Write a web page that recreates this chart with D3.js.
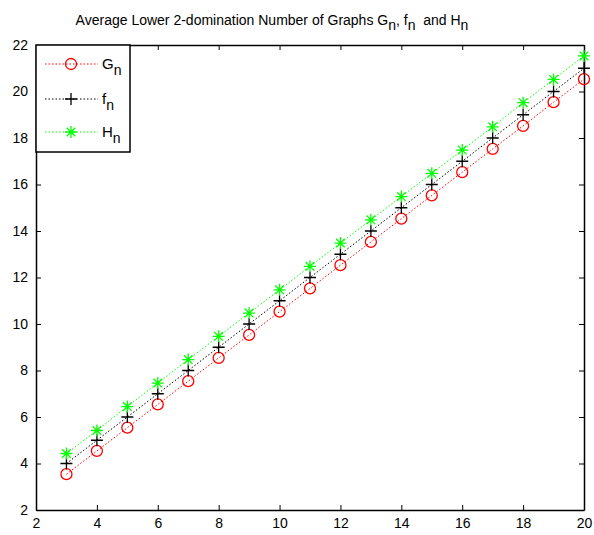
<!DOCTYPE html>
<html>
<head>
<meta charset="utf-8">
<script src="https://cdn.jsdelivr.net/npm/d3@7"></script>
<style>
  body { margin: 0; background: #fff; }
  text { font-family: "Liberation Sans", Arial, sans-serif; }
</style>
</head>
<body>
<div id="app"></div>
<script>
// data
const nValues = [3, 4, 5, 6, 7, 8, 9, 10, 11, 12, 13, 14, 15, 16, 17, 18, 19, 20];
const gValues = [3.54, 4.54, 5.54, 6.54, 7.54, 8.54, 9.53, 10.53, 11.53, 12.53, 13.53, 14.53, 15.53, 16.53, 17.53, 18.52, 19.54, 20.53];
const fValues = [4, 5, 6, 7, 8, 9, 10, 11, 12, 13, 14, 15, 16, 17, 18, 19, 20, 21];
const hValues = [4.43, 5.42, 6.45, 7.46, 8.47, 9.47, 10.47, 11.47, 12.48, 13.48, 14.48, 15.48, 16.48, 17.48, 18.48, 19.52, 20.52, 21.53];
const xTicks = [2, 4, 6, 8, 10, 12, 14, 16, 18, 20];
const yTicks = [2, 4, 6, 8, 10, 12, 14, 16, 18, 20, 22];

const series = [
  { name: "G", sub: "n", values: gValues, color: "#ff0000", marker: "circle" },
  { name: "f", sub: "n", values: fValues, color: "#000000", marker: "plus" },
  { name: "H", sub: "n", values: hValues, color: "#00ff00", marker: "star" }
];

const W = 594, H = 535;
const margin = { top: 45, right: 10, bottom: 25, left: 36 };
const width = W - margin.left - margin.right;
const height = H - margin.top - margin.bottom;

const x = d3.scaleLinear().domain([2, 20]).range([0, width]);
const y = d3.scaleLinear().domain([2, 22]).range([height, 0]);

const svg = d3.select("#app").append("svg")
  .attr("width", W).attr("height", H);

const g = svg.append("g")
  .attr("transform", `translate(${margin.left},${margin.top})`);

// title with subscripts
const title = svg.append("text")
  .attr("x", 272).attr("y", 25)
  .attr("text-anchor", "middle")
  .attr("font-size", 14)
  .attr("xml:space", "preserve");
const parts = [["Average Lower 2-domination Number of Graphs G", "n"], [", f", "n"], ["  and H", "n"]];
parts.forEach((p, i) => {
  title.append("tspan").text(p[0]).attr("dy", i === 0 ? 0 : -5);
  title.append("tspan").text(p[1]).attr("dy", 5);
});

// axes, ticks inward on all four sides
const tickLen = 5;
g.append("g").attr("transform", `translate(0,${height})`)
  .call(d3.axisBottom(x).tickValues(xTicks).tickSizeInner(-tickLen).tickSizeOuter(0).tickPadding(8));
g.append("g")
  .call(d3.axisTop(x).tickValues(xTicks).tickSizeInner(-tickLen).tickSizeOuter(0).tickFormat(""));
g.append("g")
  .call(d3.axisLeft(y).tickValues(yTicks).tickSizeInner(-tickLen).tickSizeOuter(0).tickPadding(8));
g.append("g").attr("transform", `translate(${width},0)`)
  .call(d3.axisRight(y).tickValues(yTicks).tickSizeInner(-tickLen).tickSizeOuter(0).tickFormat(""));

g.selectAll(".domain").attr("stroke", "#000").attr("stroke-width", 1.5);
g.selectAll(".tick line").attr("stroke", "#000").attr("stroke-width", 1);
g.selectAll(".tick text").attr("font-size", 14).attr("fill", "#000")
  .attr("font-family", "'Liberation Sans', Arial, sans-serif");

function drawMarker(sel, type, color) {
  if (type === "circle") {
    sel.append("circle").attr("r", 5.5).attr("fill", "none").attr("stroke", color).attr("stroke-width", 1.3);
  } else if (type === "plus") {
    sel.append("path").attr("d", "M-6,0H6M0,-6V6").attr("stroke", color).attr("stroke-width", 1.3);
  } else {
    sel.append("path").attr("d", "M-6,0H6M0,-6V6M-4.3,-4.3L4.3,4.3M-4.3,4.3L4.3,-4.3")
      .attr("stroke", color).attr("stroke-width", 1.3);
  }
}

const line = d3.line().x((d, i) => x(nValues[i])).y(d => y(d));

series.forEach(s => {
  g.append("path").datum(s.values)
    .attr("d", line)
    .attr("fill", "none")
    .attr("stroke", s.color)
    .attr("stroke-width", 1)
    .attr("stroke-dasharray", "1.5,2");
  g.selectAll(null).data(s.values).enter().append("g")
    .attr("transform", (d, i) => `translate(${x(nValues[i])},${y(d)})`)
    .each(function () { drawMarker(d3.select(this), s.marker, s.color); });
});

// legend
const legend = g.append("g");
legend.append("rect").attr("x", 0).attr("y", 0).attr("width", 94).attr("height", 107)
  .attr("fill", "#fff").attr("stroke", "#000").attr("stroke-width", 1.5);
const rowY = [19, 54, 87];
series.forEach((s, i) => {
  const r = legend.append("g").attr("transform", `translate(0,${rowY[i]})`);
  r.append("line").attr("x1", 9).attr("x2", 62).attr("y1", 0).attr("y2", 0)
    .attr("stroke", s.color).attr("stroke-dasharray", "1.5,2");
  drawMarker(r.append("g").attr("transform", "translate(35,0)"), s.marker, s.color);
  const t = r.append("text").attr("x", 66).attr("y", 5).attr("font-size", 15);
  t.append("tspan").text(s.name);
  t.append("tspan").text(s.sub).attr("dy", 6).attr("font-size", 14);
});
</script>
</body>
</html>
